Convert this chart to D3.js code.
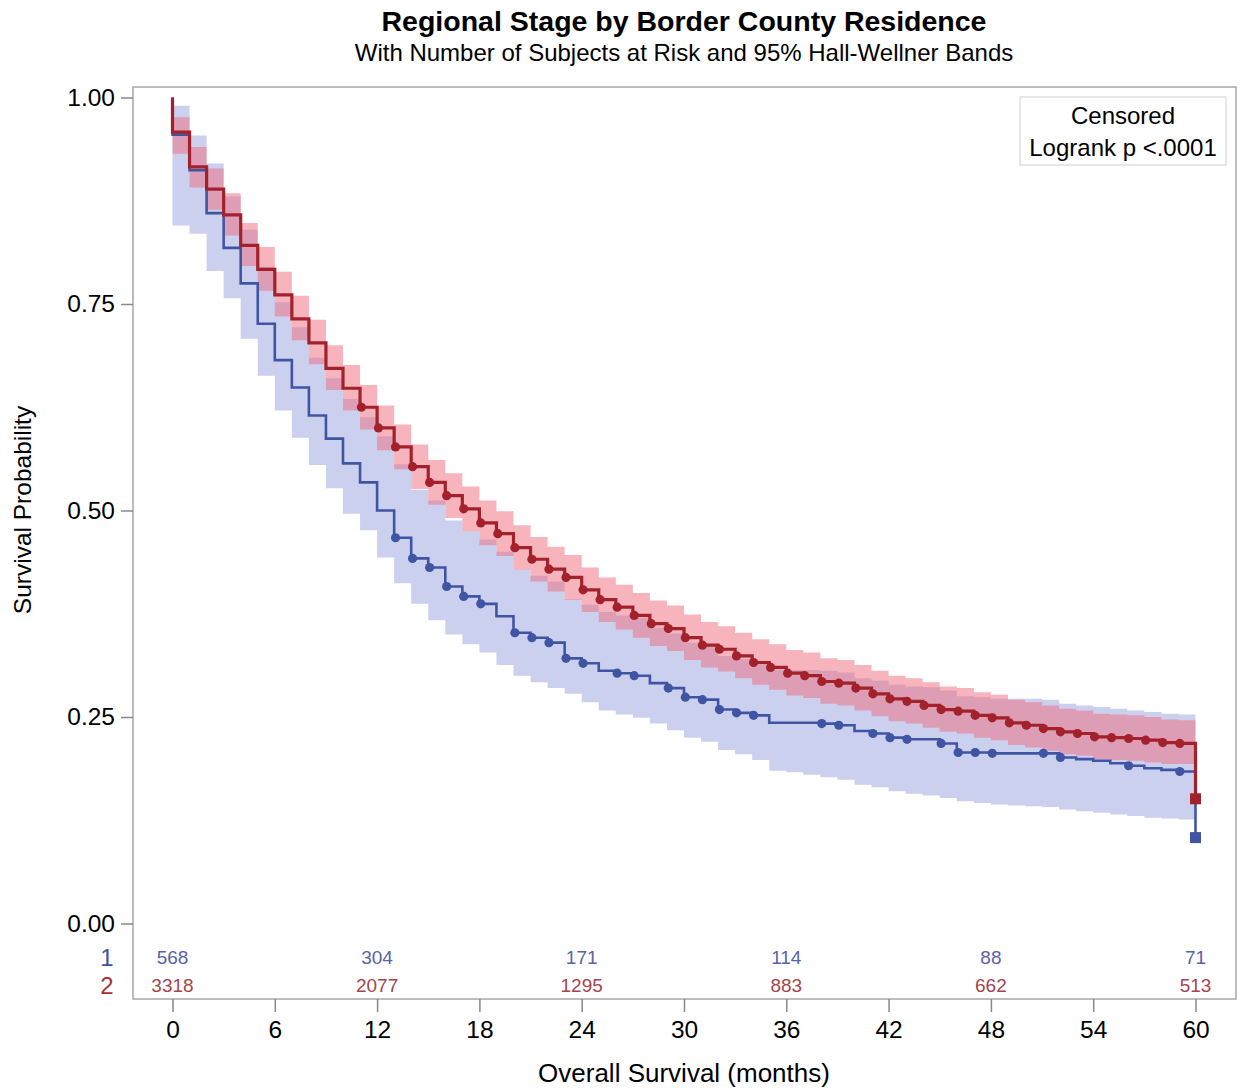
<!DOCTYPE html>
<html>
<head>
<meta charset="utf-8">
<script src="https://cdn.jsdelivr.net/npm/d3@7"></script>
<style>
  html, body { margin: 0; padding: 0; background: #fff; }
  svg { display: block; font-family: "Liberation Sans", Arial, Helvetica, sans-serif; }
</style>
</head>
<body>
<svg id="chart" width="1241" height="1091"></svg>
<script>
// survival estimate on [month, month+1), index = month
const group1Surv = [0.955, 0.912, 0.860, 0.818, 0.775, 0.726, 0.682, 0.649, 0.615, 0.587,
  0.557, 0.534, 0.500, 0.467, 0.442, 0.431, 0.408, 0.396, 0.387, 0.372,
  0.352, 0.346, 0.340, 0.321, 0.315, 0.306, 0.303, 0.300, 0.291, 0.285,
  0.274, 0.271, 0.259, 0.255, 0.252, 0.243, 0.243, 0.243, 0.242, 0.240,
  0.233, 0.230, 0.225, 0.223, 0.223, 0.218, 0.207, 0.207, 0.206, 0.206,
  0.206, 0.206, 0.201, 0.199, 0.197, 0.194, 0.191, 0.188, 0.186, 0.184];
const group1Lower = [0.845, 0.835, 0.790, 0.757, 0.708, 0.663, 0.621, 0.588, 0.555, 0.527,
  0.496, 0.476, 0.443, 0.412, 0.387, 0.367, 0.350, 0.338, 0.328, 0.313,
  0.300, 0.292, 0.285, 0.278, 0.268, 0.258, 0.253, 0.249, 0.242, 0.234,
  0.225, 0.220, 0.210, 0.205, 0.198, 0.185, 0.183, 0.180, 0.177, 0.174,
  0.168, 0.165, 0.160, 0.157, 0.155, 0.152, 0.148, 0.146, 0.144, 0.143,
  0.142, 0.141, 0.138, 0.136, 0.134, 0.132, 0.130, 0.128, 0.127, 0.126];
const group1Upper = [0.990, 0.954, 0.920, 0.880, 0.840, 0.795, 0.752, 0.722, 0.685, 0.660,
  0.635, 0.613, 0.590, 0.556, 0.525, 0.512, 0.488, 0.475, 0.465, 0.450,
  0.428, 0.421, 0.414, 0.393, 0.386, 0.377, 0.373, 0.370, 0.358, 0.351,
  0.340, 0.337, 0.324, 0.320, 0.316, 0.307, 0.307, 0.307, 0.306, 0.304,
  0.297, 0.294, 0.289, 0.287, 0.286, 0.282, 0.275, 0.274, 0.272, 0.272,
  0.272, 0.271, 0.266, 0.264, 0.262, 0.260, 0.258, 0.256, 0.254, 0.253];
const group1End = 0.104;
const group1Censored = [13, 14, 15, 16, 17, 18, 20, 21, 22, 23, 24, 26, 27, 29, 30, 31, 32, 33, 34,
  38, 39, 41, 42, 43, 45, 46, 47, 48, 51, 52, 56, 59];

const group2Surv = [0.958, 0.916, 0.889, 0.858, 0.821, 0.792, 0.761, 0.732, 0.703, 0.672,
  0.648, 0.625, 0.600, 0.577, 0.553, 0.534, 0.518, 0.502, 0.485, 0.472,
  0.455, 0.441, 0.429, 0.419, 0.404, 0.392, 0.383, 0.373, 0.363, 0.357,
  0.346, 0.337, 0.332, 0.324, 0.316, 0.310, 0.303, 0.300, 0.293, 0.291,
  0.285, 0.278, 0.272, 0.269, 0.264, 0.259, 0.257, 0.252, 0.249, 0.243,
  0.240, 0.236, 0.232, 0.230, 0.226, 0.225, 0.224, 0.222, 0.219, 0.218];
const group2Lower = [0.932, 0.891, 0.864, 0.833, 0.796, 0.766, 0.735, 0.706, 0.677, 0.646,
  0.621, 0.598, 0.573, 0.550, 0.526, 0.507, 0.491, 0.475, 0.458, 0.445,
  0.428, 0.414, 0.402, 0.392, 0.377, 0.365, 0.356, 0.346, 0.336, 0.330,
  0.319, 0.310, 0.305, 0.297, 0.289, 0.283, 0.276, 0.273, 0.266, 0.264,
  0.258, 0.251, 0.245, 0.242, 0.237, 0.232, 0.230, 0.225, 0.222, 0.216,
  0.213, 0.209, 0.205, 0.203, 0.199, 0.198, 0.197, 0.195, 0.193, 0.193];
const group2Upper = [0.976, 0.940, 0.914, 0.884, 0.848, 0.819, 0.789, 0.760, 0.731, 0.700,
  0.676, 0.652, 0.627, 0.604, 0.580, 0.561, 0.545, 0.529, 0.512, 0.499,
  0.482, 0.468, 0.456, 0.446, 0.431, 0.419, 0.410, 0.400, 0.391, 0.385,
  0.374, 0.365, 0.360, 0.352, 0.344, 0.338, 0.331, 0.328, 0.321, 0.319,
  0.313, 0.306, 0.300, 0.297, 0.292, 0.287, 0.285, 0.280, 0.277, 0.271,
  0.268, 0.264, 0.260, 0.258, 0.254, 0.253, 0.252, 0.250, 0.247, 0.246];
const group2End = 0.151;
const group2Censored = [11, 12, 13, 14, 15, 16, 17, 18, 19, 20, 21, 22, 23, 24, 25, 26, 27, 28, 29,
  30, 31, 32, 33, 34, 35, 36, 37, 38, 39, 40, 41, 42, 43, 44, 45, 46, 47, 48, 49,
  50, 51, 52, 53, 54, 55, 56, 57, 58, 59];

const atRiskTimes = [0, 12, 24, 36, 48, 60];
const atRisk1 = [568, 304, 171, 114, 88, 71];
const atRisk2 = [3318, 2077, 1295, 883, 662, 513];

const xTicks = [0, 6, 12, 18, 24, 30, 36, 42, 48, 54, 60];
const yTicks = [0, 0.25, 0.5, 0.75, 1];

const blue = "#3f55a3", red = "#a3212b";

const svg = d3.select("#chart");
const frame = { left: 133, top: 87, right: 1236, bottom: 999 };

const x = d3.scaleLinear().domain([0, 60]).range([172.5, 1195.5]);
const y = d3.scaleLinear().domain([0, 1]).range([923.5, 97.5]);

// Titles
svg.append("text")
  .attr("x", 684).attr("y", 31)
  .attr("text-anchor", "middle")
  .style("font", "bold 28.5px 'Liberation Sans', Arial")
  .text("Regional Stage by Border County Residence");
svg.append("text")
  .attr("x", 684).attr("y", 61)
  .attr("text-anchor", "middle")
  .style("font", "24px 'Liberation Sans', Arial")
  .text("With Number of Subjects at Risk and 95% Hall-Wellner Bands");

// Bands
const bandPoints = (lo, hi) => lo.map((d, i) => ({ t: i, lo: d, hi: hi[i] }))
  .concat([{ t: 60, lo: lo[lo.length - 1], hi: hi[hi.length - 1] }]);

const area = d3.area()
  .curve(d3.curveStepAfter)
  .x((d) => x(d.t))
  .y0((d) => y(d.lo))
  .y1((d) => y(d.hi));

svg.append("path")
  .attr("d", area(bandPoints(group1Lower, group1Upper)))
  .attr("fill", "#cbd0ee");
svg.append("path")
  .attr("d", area(bandPoints(group2Lower, group2Upper)))
  .attr("fill", "rgba(239,105,121,0.5)");

// Step curves
const stepPoints = (surv, end) => [{ t: 0, s: 1 }]
  .concat(surv.map((d, i) => ({ t: i, s: d })))
  .concat([{ t: 60, s: end }]);

const line = d3.line()
  .curve(d3.curveStepAfter)
  .x((d) => x(d.t))
  .y((d) => y(d.s));

const groups = [
  { surv: group1Surv, end: group1End, cens: group1Censored, color: blue, width: 2.6 },
  { surv: group2Surv, end: group2End, cens: group2Censored, color: red, width: 3.2 }
];

groups.forEach((g) => {
  svg.append("path")
    .attr("d", line(stepPoints(g.surv, g.end)))
    .attr("fill", "none")
    .attr("stroke", g.color)
    .attr("stroke-width", g.width);

  svg.append("g")
    .selectAll("circle")
    .data(g.cens)
    .join("circle")
    .attr("cx", (d) => x(d + 0.08))
    .attr("cy", (d) => y(g.surv[d]))
    .attr("r", 4.6)
    .attr("fill", g.color);

  svg.append("rect")
    .attr("x", x(60) - 5.5)
    .attr("y", y(g.end) - 5.5)
    .attr("width", 11)
    .attr("height", 11)
    .attr("fill", g.color);
});

// Frame
svg.append("rect")
  .attr("x", frame.left).attr("y", frame.top)
  .attr("width", frame.right - frame.left)
  .attr("height", frame.bottom - frame.top)
  .attr("fill", "none")
  .attr("stroke", "#a8a8a8")
  .attr("stroke-width", 1.5);

// Axes
const yAxis = svg.append("g")
  .attr("transform", `translate(${frame.left},0)`)
  .call(d3.axisLeft(y).tickValues(yTicks).tickFormat(d3.format(".2f")).tickSize(12).tickPadding(6));
yAxis.select(".domain").remove();
yAxis.selectAll("line").attr("stroke", "#888").attr("stroke-width", 1.5);
yAxis.selectAll("text")
  .attr("fill", "#000")
  .style("font", "24.5px 'Liberation Sans', Arial");

const xAxis = svg.append("g")
  .attr("transform", `translate(0,${frame.bottom})`)
  .call(d3.axisBottom(x).tickValues(xTicks).tickSize(13).tickPadding(9));
xAxis.select(".domain").remove();
xAxis.selectAll("line").attr("stroke", "#888").attr("stroke-width", 1.5);
xAxis.selectAll("text")
  .attr("fill", "#000")
  .style("font", "24.5px 'Liberation Sans', Arial");

svg.append("text")
  .attr("transform", "translate(31,510) rotate(-90)")
  .attr("text-anchor", "middle")
  .style("font", "24.5px 'Liberation Sans', Arial")
  .text("Survival Probability");

svg.append("text")
  .attr("x", 684).attr("y", 1082)
  .attr("text-anchor", "middle")
  .style("font", "26px 'Liberation Sans', Arial")
  .text("Overall Survival (months)");

// Legend
svg.append("rect")
  .attr("x", 1020).attr("y", 97)
  .attr("width", 206).attr("height", 68)
  .attr("fill", "#fff")
  .attr("stroke", "#d0d0d0");
svg.append("text")
  .attr("x", 1123).attr("y", 124)
  .attr("text-anchor", "middle")
  .style("font", "24px 'Liberation Sans', Arial")
  .text("Censored");
svg.append("text")
  .attr("x", 1123).attr("y", 156)
  .attr("text-anchor", "middle")
  .style("font", "24px 'Liberation Sans', Arial")
  .text("Logrank p <.0001");

// At-risk table
const riskRows = [
  { label: "1", values: atRisk1, y: 964, color: "#5a63a8", labelColor: "#3f4fa0" },
  { label: "2", values: atRisk2, y: 992, color: "#a3454d", labelColor: "#a82f38" }
];
riskRows.forEach((r) => {
  svg.append("text")
    .attr("x", 107).attr("y", r.y + 2)
    .attr("text-anchor", "middle")
    .attr("fill", r.labelColor)
    .style("font", "24px 'Liberation Sans', Arial")
    .text(r.label);
  svg.append("g")
    .selectAll("text")
    .data(r.values)
    .join("text")
    .attr("x", (d, i) => x(atRiskTimes[i]))
    .attr("y", r.y)
    .attr("text-anchor", "middle")
    .attr("fill", r.color)
    .style("font", "19px 'Liberation Sans', Arial")
    .text((d) => d);
});
</script>
</body>
</html>
